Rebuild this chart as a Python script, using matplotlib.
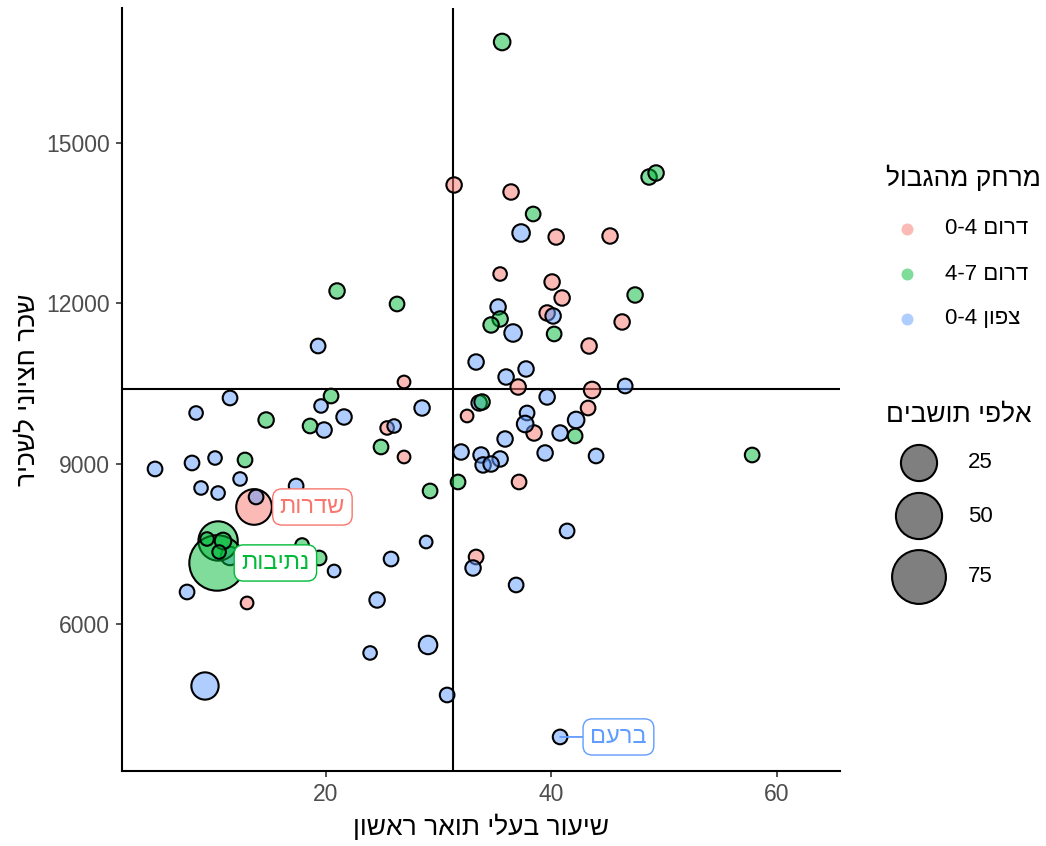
import numpy as np
import matplotlib.pyplot as plt

plt.rcParams['font.family'] = ['Liberation Sans', 'DejaVu Sans']


def heb(s):
    # matplotlib has no bidi support: flip word order and the letters of Hebrew words
    words = []
    for w in s.split(' ')[::-1]:
        words.append(w[::-1] if any('\u0590' <= c <= '\u05ff' for c in w) else w)
    return ' '.join(words)


# data: x = share of academic degree holders, y = median wage, pop = residents (thousands)
groups = ['דרום 0-4', 'דרום 4-7', 'צפון 0-4']
colors = ['#F8766D', '#00BA38', '#619CFF']

south04_x = [31.38, 36.43, 40.43, 45.21, 35.46, 40.07, 40.96, 39.63, 46.28, 43.35, 37.06,
             43.62, 43.26, 32.53, 38.47, 26.94, 25.44, 26.94, 37.14, 33.33, 13.02, 13.64]
south04_y = [14210, 14079, 13238, 13257, 12547, 12398, 12099, 11819, 11651, 11202, 10436,
             10380, 10044, 9895, 9577, 10530, 9671, 9129, 8662, 7261, 6402, 8195]
south04_pop = [0.5, 0.5, 0.5, 0.5, 0.1, 0.5, 0.5, 0.5, 0.5, 0.5, 0.5,
               0.9, 0.3, 0.02, 0.5, 0.02, 0.1, 0.02, 0.3, 0.3, 0.02, 24]

south47_x = [35.64, 48.67, 49.29, 38.39, 47.43, 35.46, 34.66, 40.25, 33.86, 42.11, 31.73,
             21.00, 26.32, 20.47, 14.71, 18.61, 24.90, 12.84, 29.25, 17.90, 19.41, 57.81,
             10.45, 10.36, 9.47, 10.89, 10.54]
south47_y = [16881, 14359, 14434, 13668, 12155, 11707, 11595, 11427, 10156, 9521, 8662,
             12230, 11987, 10268, 9820, 9708, 9316, 9073, 8494, 7485, 7242, 9166,
             7560, 7149, 7597, 7560, 7354]
south47_pop = [0.9, 0.5, 0.5, 0.3, 0.5, 0.5, 0.5, 0.3, 0.5, 0.3, 0.3,
               0.5, 0.3, 0.3, 0.5, 0.3, 0.3, 0.3, 0.3, 0.1, 0.3, 0.3,
               32, 81, 0.1, 0.9, 0.1]

north04_x = [37.32, 35.28, 36.61, 40.16, 33.33, 37.76, 35.99, 46.55, 39.63, 33.60, 37.85,
             37.68, 42.20, 40.78, 35.90, 32.00, 33.77, 35.46, 33.95, 34.66, 39.45, 43.97,
             41.40, 33.06, 36.88, 30.76, 40.78, 19.32, 11.51, 8.50, 19.58, 28.54, 21.62,
             19.85, 26.06, 4.86, 8.14, 10.18, 12.40, 8.94, 10.45, 17.37, 13.82, 28.90,
             25.79, 20.74, 7.70, 24.55, 29.07, 23.93, 9.29, 11.51]
north04_y = [13313, 11931, 11445, 11763, 10903, 10773, 10623, 10455, 10250, 10138, 9951,
             9745, 9820, 9577, 9465, 9222, 9166, 9092, 8980, 8998, 9204, 9148,
             7747, 7055, 6738, 4683, 3899, 11202, 10231, 9951, 10082, 10044, 9876,
             9633, 9708, 8905, 9017, 9110, 8718, 8550, 8456, 8587, 8382, 7541,
             7223, 6999, 6607, 6458, 5617, 5468, 4851, 7280]
north04_pop = [1.3, 0.5, 1.3, 0.5, 0.5, 0.5, 0.5, 0.3, 0.5, 0.5, 0.3,
               0.9, 0.9, 0.5, 0.5, 0.5, 0.5, 0.5, 0.5, 0.5, 0.5, 0.3,
               0.3, 0.5, 0.3, 0.3, 0.3, 0.3, 0.3, 0.1, 0.1, 0.5, 0.5,
               0.5, 0.1, 0.3, 0.3, 0.1, 0.1, 0.1, 0.1, 0.3, 0.3, 0.02,
               0.3, 0.02, 0.3, 0.5, 1.8, 0.1, 10, 1.8]

labels = [('שדרות', 0, 21), ('נתיבות', 1, 23), ('ברעם', 2, 26)]  # name, group, index

median_x = 31.32
median_y = 10400
size_breaks = [25, 50, 75]


def diam_px(pop):
    return 13.5 + 4.83 * np.sqrt(np.asarray(pop, dtype=float))


def marker_s(pop):
    return ((diam_px(pop) - 1.5) * 0.72) ** 2


fig = plt.figure(figsize=(10.46, 8.46), dpi=100)
ax = fig.add_axes([122 / 1046, 75 / 846, 718 / 1046, 763 / 846])

series = [(south04_x, south04_y, south04_pop, 0),
          (north04_x, north04_y, north04_pop, 2),
          (south47_x, south47_y, south47_pop, 1)]
for xs, ys, pops, g in series:
    ax.scatter(xs, ys, s=marker_s(pops), color=colors[g], edgecolors='black',
               linewidths=1.5, zorder=3)
for coll in ax.collections:
    fc = coll.get_facecolor()
    fc[:, 3] = 0.5
    coll.set_facecolor(fc)

ax.axvline(median_x, color='black', lw=1.5, zorder=2)
ax.axhline(median_y, color='black', lw=1.5, zorder=2)

all_xy = {0: (south04_x, south04_y), 1: (south47_x, south47_y), 2: (north04_x, north04_y)}
for name, g, i in labels:
    px, py = all_xy[g][0][i], all_xy[g][1][i]
    arrow = dict(arrowstyle='-', color=colors[g], lw=1.3, shrinkA=0, shrinkB=0) if g == 2 else None
    ax.annotate(heb(name), xy=(px, py), xytext=(42, 0), textcoords='offset points',
                ha='center', va='center', color=colors[g], fontsize=17,
                bbox=dict(boxstyle='round,pad=0.3,rounding_size=0.4', fc='white', ec=colors[g], lw=1),
                arrowprops=arrow, zorder=5)

ax.set_xlim(1.93, 65.6)
ax.set_ylim(3263, 17516)
ax.set_xticks([20, 40, 60])
ax.set_yticks([6000, 9000, 12000, 15000])
for side in ['top', 'right']:
    ax.spines[side].set_visible(False)
for side in ['left', 'bottom']:
    ax.spines[side].set_linewidth(1.5)
ax.tick_params(length=4.5, width=1.2, color='#333333', labelcolor='#4D4D4D', labelsize=16.5, pad=4)
ax.set_xlabel(heb('שיעור בעלי תואר ראשון'), fontsize=19, labelpad=6)
ax.set_ylabel(heb('שכר חציוני לשכיר'), fontsize=19, labelpad=5)

# legends, drawn in figure pixel space
lax = fig.add_axes([0, 0, 1, 1])
lax.set_xlim(0, 1046)
lax.set_ylim(846, 0)
lax.axis('off')

lax.text(886, 178, heb('מרחק מהגבול'), fontsize=19, ha='left', va='center')
for k, (grp, col) in enumerate(zip(groups, colors)):
    ky = 229 + 45 * k
    lax.scatter([907], [ky], s=(12 * 0.72) ** 2, color=col, alpha=0.5, linewidths=0)
    lax.text(945, ky, heb(grp), fontsize=16, ha='left', va='center')

lax.text(886, 415, heb('אלפי תושבים'), fontsize=19, ha='left', va='center')
for ky, b in zip([463, 516, 577], size_breaks):
    lax.scatter([919], [ky], s=marker_s(b), color='black', alpha=0.5, linewidths=0)
    lax.scatter([919], [ky], s=marker_s(b), facecolors='none', edgecolors='black', linewidths=1.5)
    lax.text(968, ky, str(b), fontsize=16, ha='left', va='center')

fig.savefig('out.png', dpi=100)
